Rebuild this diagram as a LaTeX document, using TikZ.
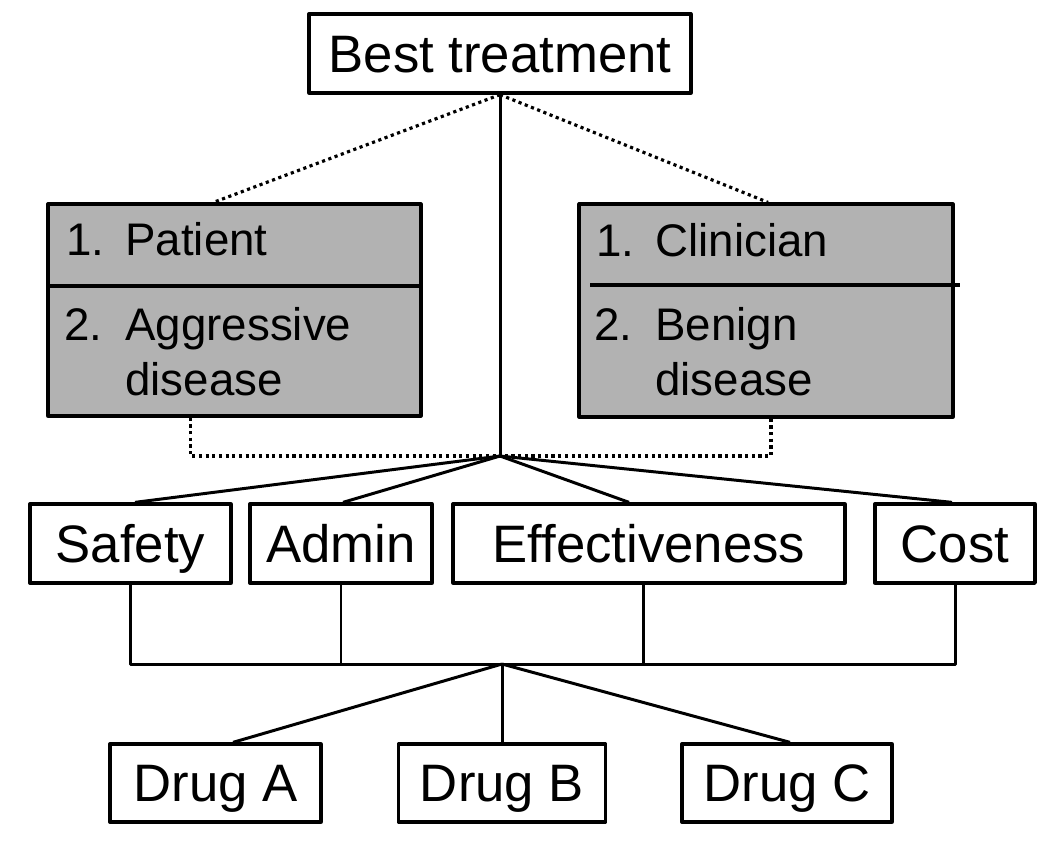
\documentclass[tikz,border=0pt]{standalone}
\usepackage{fontspec}
\setmainfont{Liberation Sans}
\usepackage{tikz}
\usetikzlibrary{positioning}
\definecolor{boxgray}{gray}{0.70}

\begin{document}
\begin{tikzpicture}[x=0.02cm, y=-0.02cm, line join=round,
        every node/.style={font=\fontsize{30}{34}\selectfont, inner sep=0pt},
        box/.style={draw, line width=1.9pt, text height=21.5pt, text depth=0pt, minimum height=1.58cm},
        graybox/.style={draw, line width=1.9pt, fill=boxgray},
        itemtxt/.style={anchor=base west, font=\fontsize{26}{31}\selectfont},
        link/.style={line width=1.7pt},
        dots/.style={line width=1.8pt, dotted}]
        \useasboundingbox (0,0) rectangle (1050,850);

        % goal
        \node[box, minimum width=7.64cm] (best) at (500,53.5) {Best treatment};

        % perspectives (gray boxes)
        \node[graybox, minimum width=7.46cm, minimum height=4.24cm] (pat) at (234.5,310) {};
        \node[graybox, minimum width=7.48cm, minimum height=4.26cm] (cli) at (766,310.5) {};
        \draw[line width=1.9pt] (48,286) -- (421,286);
        \draw[line width=1.9pt] (590,285) -- (960,285);

        \node[itemtxt] (patnum1) at (66,255) {1.};
        \node[itemtxt] (pattxt1) at (125,255) {Patient};
        \node[itemtxt] (patnum2) at (64,340) {2.};
        \node[itemtxt] (pattxt2) at (125,340) {Aggressive};
        \node[itemtxt] (pattxt3) at (125,395) {disease};

        \node[itemtxt] (clinum1) at (596,256) {1.};
        \node[itemtxt] (clitxt1) at (655,256) {Clinician};
        \node[itemtxt] (clinum2) at (594,340) {2.};
        \node[itemtxt] (clitxt2) at (655,340) {Benign};
        \node[itemtxt] (clitxt3) at (655,395) {disease};

        % criteria
        \node[box, minimum width=4.02cm] (safety) at (130.5,543.5) {Safety};
        \node[box, minimum width=3.64cm] (admin) at (341,543.5) {Admin};
        \node[box, minimum width=7.84cm] (eff) at (649,543.5) {Effectiveness};
        \node[box, minimum width=3.20cm] (cost) at (955,543.5) {Cost};

        % alternatives
        \node[box, minimum width=4.22cm, minimum height=1.56cm] (druga) at (215.5,783) {Drug A};
        \node[box, minimum width=4.14cm, minimum height=1.56cm] (drugb) at (502,783) {Drug B};
        \node[box, minimum width=4.20cm, minimum height=1.56cm] (drugc) at (787,783) {Drug C};

        % junctions
        \coordinate (hub) at (500,456);
        \coordinate (bus) at (502,664);

        % goal to criteria
        \draw[link] (best.south) -- (hub);
        \draw[dots] (best.south) -- ([xshift=-0.42cm]pat.north);
        \draw[dots] (best.south) -- ([xshift=0.04cm]cli.north);
        \draw[dots] ([xshift=-0.88cm]pat.south) |- (hub);
        \draw[dots] ([xshift=0.1cm]cli.south) |- (hub);
        \draw[link] (hub) -- ([xshift=0.09cm]safety.north);
        \draw[link] (hub) -- ([xshift=0.04cm]admin.north);
        \draw[link] (hub) -- ([xshift=-0.4cm]eff.north);
        \draw[link] (hub) -- ([xshift=-0.06cm]cost.north);

        % criteria to alternatives
        \draw[link] (safety.south) |- (bus) -| (cost.south);
        \draw[link] (admin.south) -- (admin.south |- bus);
        \draw[link] ([xshift=-0.12cm]eff.south) -- ([xshift=-0.12cm]eff.south |- bus);
        \draw[link] (bus) -- ([xshift=0.35cm]druga.north);
        \draw[link] (bus) -- (drugb.north);
        \draw[link] (bus) -- ([xshift=0.06cm]drugc.north);
\end{tikzpicture}
\end{document}
